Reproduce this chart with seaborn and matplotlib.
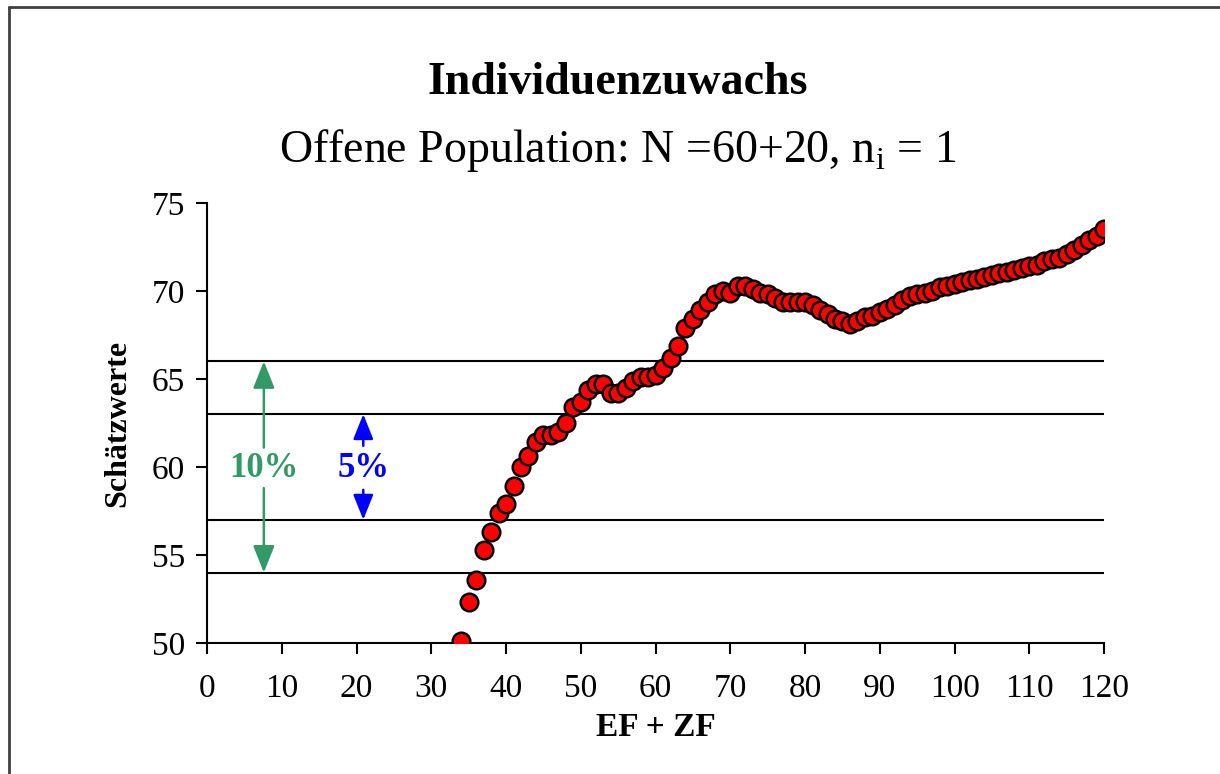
import numpy as np
import pandas as pd
import seaborn as sns
import matplotlib.pyplot as plt
from matplotlib.lines import Line2D

sns.set_theme(style="white")
plt.rcParams['font.family'] = ['Liberation Serif', 'DejaVu Serif']
plt.rcParams['text.color'] = 'black'
plt.rcParams['axes.labelcolor'] = 'black'
plt.rcParams['xtick.color'] = 'black'
plt.rcParams['ytick.color'] = 'black'

# x values (EF + ZF) and estimates
ef_zf = list(range(34, 121))
schaetzwerte = [
    50.1, 52.3, 53.6, 55.3, 56.3, 57.4, 57.9, 58.9, 60.0, 60.6,   # 34-43
    61.4, 61.8, 61.8, 62.0, 62.5, 63.4, 63.7, 64.4, 64.7, 64.7,   # 44-53
    64.2, 64.2, 64.5, 64.9, 65.1, 65.1, 65.2, 65.6, 66.2, 66.9,   # 54-63
    67.9, 68.4, 68.9, 69.4, 69.8, 70.0, 69.9, 70.3, 70.3, 70.1,   # 64-73
    69.9, 69.8, 69.6, 69.4, 69.4, 69.4, 69.4, 69.2, 68.9, 68.7,   # 74-83
    68.4, 68.3, 68.1, 68.3, 68.5, 68.6, 68.8, 69.0, 69.2, 69.5,   # 84-93
    69.7, 69.8, 69.9, 70.0, 70.2, 70.3, 70.4, 70.5, 70.6, 70.7,   # 94-103
    70.8, 70.9, 71.0, 71.1, 71.2, 71.3, 71.4, 71.5, 71.7, 71.8,   # 104-113
    71.9, 72.1, 72.3, 72.6, 72.9, 73.1, 73.5,                     # 114-120
]
# true N = 60, bands at +-5% and +-10%
band_5 = [57, 63]
band_10 = [54, 66]

df = pd.DataFrame({'EF + ZF': ef_zf, 'Schätzwerte': schaetzwerte})

fig = plt.figure(figsize=(12.2, 7.74), dpi=100)
ax = fig.add_axes([0.1697, 0.1693, 0.7353, 0.5685])

for y in band_10 + band_5:
    ax.plot([0, 120], [y, y], color='black', lw=1.5, zorder=1)

sns.scatterplot(data=df, x='EF + ZF', y='Schätzwerte', ax=ax, s=160,
                color='#ff0000', edgecolor='black', linewidth=1.8, zorder=3)

head = '-|>,head_length=0.55,head_width=0.22'

# 10% arrow (green)
green = '#339966'
for end, start in [(band_10[1], 61.1), (band_10[0], 58.8)]:
    ax.annotate('', xy=(7.6, end), xytext=(7.6, start),
                arrowprops=dict(arrowstyle=head, color=green, lw=1.8,
                                mutation_scale=30, shrinkA=0, shrinkB=0))
ax.text(7.6, 59.9, '10%', color=green, fontsize=25, fontweight='bold',
        ha='center', va='center')

# 5% arrow (blue)
for end, start in [(band_5[1], 61.2), (band_5[0], 58.7)]:
    ax.annotate('', xy=(20.9, end), xytext=(20.9, start),
                arrowprops=dict(arrowstyle=head, color='#0000ff', lw=1.8,
                                mutation_scale=28, shrinkA=0, shrinkB=0))
ax.text(20.9, 59.9, '5%', color='#0000ff', fontsize=25, fontweight='bold',
        ha='center', va='center')

ax.set_xlim(0, 120)
ax.set_ylim(50, 75)
ax.set_xticks(range(0, 121, 10))
ax.set_yticks(range(50, 76, 5))
sns.despine(ax=ax)
for s in ['left', 'bottom']:
    ax.spines[s].set_color('black')
    ax.spines[s].set_linewidth(1.5)
ax.tick_params(axis='both', direction='out', length=8, width=1.5,
               labelsize=24, left=True, bottom=True)
ax.tick_params(axis='x', pad=14)
ax.tick_params(axis='y', pad=8)
ax.set_xlabel('EF + ZF', fontsize=24, fontweight='bold', labelpad=6)
ax.set_ylabel('Schätzwerte', fontsize=23, fontweight='bold', labelpad=14)

fig.text(0.506, 0.893, 'Individuenzuwachs', ha='center', va='center',
         fontsize=33, fontweight='bold')
fig.text(0.506, 0.806, 'Offene Population: N =60+20, n$_\\mathregular{i}$ = 1',
         ha='center', va='center', fontsize=33)

# outer frame (left and top edges)
fig.add_artist(Line2D([0.0075, 0.0075], [0, 0.991], transform=fig.transFigure,
                      color='#404040', lw=2))
fig.add_artist(Line2D([0.0075, 1.0], [0.991, 0.991], transform=fig.transFigure,
                      color='#404040', lw=2))

fig.savefig('out.png', dpi=100, facecolor='white')
